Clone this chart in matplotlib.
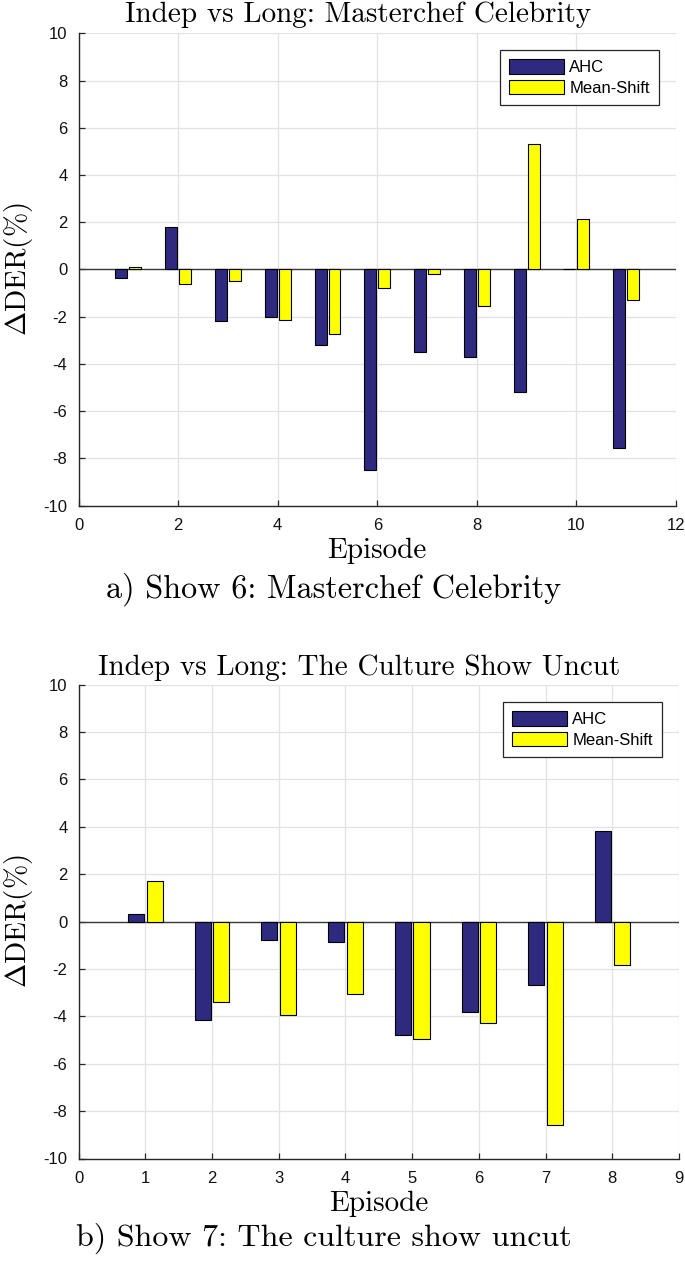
import numpy as np
import matplotlib
matplotlib.use("Agg")
import matplotlib.pyplot as plt

# delta DER (%) per episode
episodes_show6 = [1, 2, 3, 4, 5, 6, 7, 8, 9, 10, 11]
ahc_show6 = [-0.35, 1.8, -2.2, -2.0, -3.22, -8.5, -3.48, -3.72, -5.2, 0.03, -7.55]
ms_show6 = [0.1, -0.62, -0.5, -2.13, -2.73, -0.77, -0.18, -1.56, 5.3, 2.13, -1.29]

episodes_show7 = [1, 2, 3, 4, 5, 6, 7, 8]
ahc_show7 = [0.32, -4.15, -0.76, -0.86, -4.77, -3.8, -2.68, 3.83]
ms_show7 = [1.72, -3.39, -3.93, -3.08, -4.97, -4.28, -8.6, -1.82]

series_names = ['AHC', 'Mean-Shift']
titles = ['Indep vs Long: Masterchef Celebrity', 'Indep vs Long: The Culture Show Uncut']
captions = ['a) Show 6: Masterchef Celebrity', 'b) Show 7: The culture show uncut']
xticks_show6 = [0, 2, 4, 6, 8, 10, 12]
xticks_show7 = [0, 1, 2, 3, 4, 5, 6, 7, 8, 9]
yticks = [-10, -8, -6, -4, -2, 0, 2, 4, 6, 8, 10]

plt.rcParams['mathtext.fontset'] = 'cm'
plt.rcParams['axes.unicode_minus'] = False
plt.rcParams['font.family'] = ['Liberation Sans', 'DejaVu Sans']

NAVY = '#2d2a80'
YELLOW = '#ffff00'
W = 685
H = 1263

fig = plt.figure(figsize=(6.85, 12.63), dpi=100)


def px_axes(left, top, right, bottom):
    return fig.add_axes([left / W, 1 - bottom / H, (right - left) / W, (bottom - top) / H])


def draw_panel(ax, eps, ahc, ms, xticks, legend_anchor):
    eps = np.array(eps)
    ax.bar(eps - 0.14, ahc, width=0.24, color=NAVY, edgecolor='black', linewidth=0.8,
           label=series_names[0], zorder=3)
    ax.bar(eps + 0.14, ms, width=0.24, color=YELLOW, edgecolor='black', linewidth=0.8,
           label=series_names[1], zorder=3)
    ax.axhline(0, color='#3a3a3a', linewidth=1.0, zorder=2.5)
    ax.set_xlim(xticks[0], xticks[-1])
    ax.set_ylim(-10, 10)
    ax.set_xticks(xticks)
    ax.set_yticks(yticks)
    ax.grid(True, color='#e2e2e2', linewidth=0.9, zorder=0)
    ax.set_axisbelow(True)
    for s in ['top', 'right']:
        ax.spines[s].set_visible(False)
    for s in ['left', 'bottom']:
        ax.spines[s].set_color('#262626')
        ax.spines[s].set_linewidth(1.0)
    ax.tick_params(direction='in', length=4, width=0.9, color='#262626',
                   labelsize=12, labelcolor='#111111')
    ax.tick_params(axis='y', pad=8)
    ax.tick_params(axis='x', pad=9)
    ax.set_xlabel('Episode', family='cmr10', fontsize=21, labelpad=3)
    ax.set_ylabel(r'$\Delta\mathrm{DER}(\%)$', fontsize=21, labelpad=6)
    leg = ax.legend(loc='upper right', bbox_to_anchor=legend_anchor, fontsize=12,
                    frameon=True, fancybox=False, framealpha=1, edgecolor='#262626',
                    handlelength=3.3, handleheight=0.95, handletextpad=0.3,
                    labelspacing=0.3, borderpad=0.55, borderaxespad=0)
    leg.get_frame().set_linewidth(0.9)


ax1 = px_axes(78.6, 33.3, 676, 505.5)
draw_panel(ax1, episodes_show6, ahc_show6, ms_show6, xticks_show6, (0.9716, 0.9646))

ax2 = px_axes(78.6, 684.5, 679, 1158.5)
draw_panel(ax2, episodes_show7, ahc_show7, ms_show7, xticks_show7, (0.9717, 0.963))

fig.text(358 / W, 1 - 22 / H, titles[0], family='cmr10', fontsize=21,
         ha='center', va='baseline')
fig.text(359 / W, 1 - 675 / H, titles[1], family='cmr10', fontsize=21,
         ha='center', va='baseline')
fig.text(334 / W, 1 - 598 / H, captions[0], family='cmr10', fontsize=23.2,
         ha='center', va='baseline')
fig.text(324 / W, 1 - 1246 / H, captions[1], family='cmr10', fontsize=23,
         ha='center', va='baseline')

fig.savefig('out.png', dpi=100)
